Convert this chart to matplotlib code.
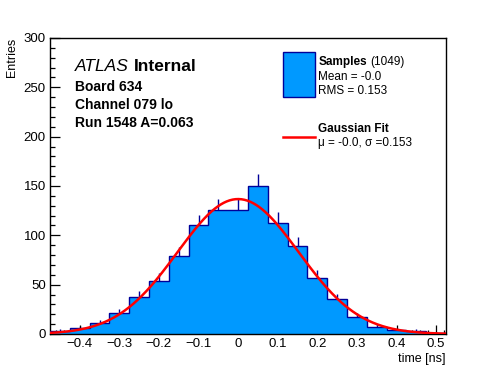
import numpy as np
import matplotlib
matplotlib.use('Agg')
import matplotlib.pyplot as plt
from matplotlib.patches import Rectangle
from matplotlib.lines import Line2D
from matplotlib.ticker import MultipleLocator

plt.rcParams['font.family'] = ['Liberation Sans', 'DejaVu Sans']

# histogram of timing residuals, 20 bins of 0.05 ns
bin_edges = np.round(np.arange(-0.475, 0.5251, 0.05), 3)
counts = [3, 6, 11, 21, 37, 54, 79, 110, 126, 126,
          150, 113, 89, 57, 35, 17, 7, 4, 3, 1]
n_samples = 1049
fit_mean = 0.0
fit_sigma = 0.153

board_lines = ['Board 634', 'Channel 079 lo', 'Run 1548 A=0.063']

fill_col = '#0099ff'
edge_col = '#000099'

fig = plt.figure(figsize=(4.96, 3.72), dpi=100)
ax = fig.add_axes([50 / 496, 38 / 372, 396 / 496, 296 / 372])

centers = 0.5 * (bin_edges[:-1] + bin_edges[1:])
counts = np.array(counts, dtype=float)

# error bars first so the fill hides the lower half, like ROOT
ax.errorbar(centers, counts, yerr=np.sqrt(counts), fmt='none',
            ecolor=edge_col, elinewidth=1.0, capsize=0, zorder=1)
ax.bar(centers, counts, width=0.05, color=fill_col, linewidth=0, zorder=2)
ax.stairs(counts, bin_edges, color=edge_col, linewidth=1.0, zorder=3)

# gaussian fit curve
bw = bin_edges[1] - bin_edges[0]
amp = n_samples * bw / (fit_sigma * np.sqrt(2 * np.pi))
xs = np.linspace(bin_edges[0], bin_edges[-1], 400)
ax.plot(xs, amp * np.exp(-0.5 * ((xs - fit_mean) / fit_sigma) ** 2),
        color='red', linewidth=1.8, zorder=4)

ax.set_xlim(bin_edges[0], bin_edges[-1])
ax.set_ylim(0, 300)
ax.xaxis.set_major_locator(MultipleLocator(0.1))
ax.xaxis.set_minor_locator(MultipleLocator(0.02))
ax.yaxis.set_major_locator(MultipleLocator(50))
ax.yaxis.set_minor_locator(MultipleLocator(10))
ax.tick_params(which='both', direction='in', top=False, right=False,
               labelsize=9.5, width=0.9, pad=3)
ax.tick_params(axis='x', which='major', length=6.5)
ax.tick_params(axis='x', which='minor', length=3.2)
ax.tick_params(axis='y', which='major', length=7.2)
ax.tick_params(axis='y', which='minor', length=3.6)
ax.set_xticklabels([('%g' % t).replace('-', '\u2212') for t in ax.get_xticks()])
for s in ax.spines.values():
    s.set_linewidth(1.0)

fig.text(12 / 496, 1 - 38 / 372, 'Entries', fontsize=9, rotation=90,
         ha='center', va='top')
ax.set_xlabel('time [ns]', fontsize=9, loc='right', labelpad=2)

# ATLAS label and run info
atlas = ax.text(0.064, 0.905, 'ATLAS', transform=ax.transAxes, fontsize=12.5,
                style='italic', va='center')
ax.annotate('Internal', xy=(1, 0.5), xycoords=atlas, xytext=(3.5, 0),
            textcoords='offset points', fontsize=12.5, weight='bold',
            va='center')
for i, line in enumerate(board_lines):
    ax.text(0.064, 0.836 - i * 0.062, line, transform=ax.transAxes,
            fontsize=10, weight='bold', va='center')

# legend drawn by hand to match ROOT's TLegend
ax.add_patch(Rectangle((233 / 396, 237 / 296), 32 / 396, 45 / 296,
                       transform=ax.transAxes, facecolor=fill_col,
                       edgecolor=edge_col, linewidth=1.0, zorder=5))
samp = ax.text(0.678, 0.918, 'Samples', transform=ax.transAxes, fontsize=8.5,
               weight='bold', va='center')
ax.annotate('(%d)' % n_samples, xy=(1, 0.5), xycoords=samp, xytext=(2.5, 0),
            textcoords='offset points', fontsize=8.5, va='center')
ax.text(0.678, 0.868, 'Mean = -%.1f' % abs(fit_mean), transform=ax.transAxes,
        fontsize=8.5, va='center')
ax.text(0.678, 0.82, 'RMS = %.3f' % fit_sigma, transform=ax.transAxes,
        fontsize=8.5, va='center')
ax.add_line(Line2D([233 / 396, 265 / 396], [0.666, 0.666],
                   transform=ax.transAxes, color='red', linewidth=1.8))
ax.text(0.678, 0.693, 'Gaussian Fit', transform=ax.transAxes, fontsize=8.5,
        weight='bold', va='center')
ax.text(0.678, 0.645, '\u03bc = -%.1f, \u03c3 =%.3f' % (abs(fit_mean), fit_sigma),
        transform=ax.transAxes, fontsize=8.5, va='center')

fig.savefig('out.png', dpi=100)
